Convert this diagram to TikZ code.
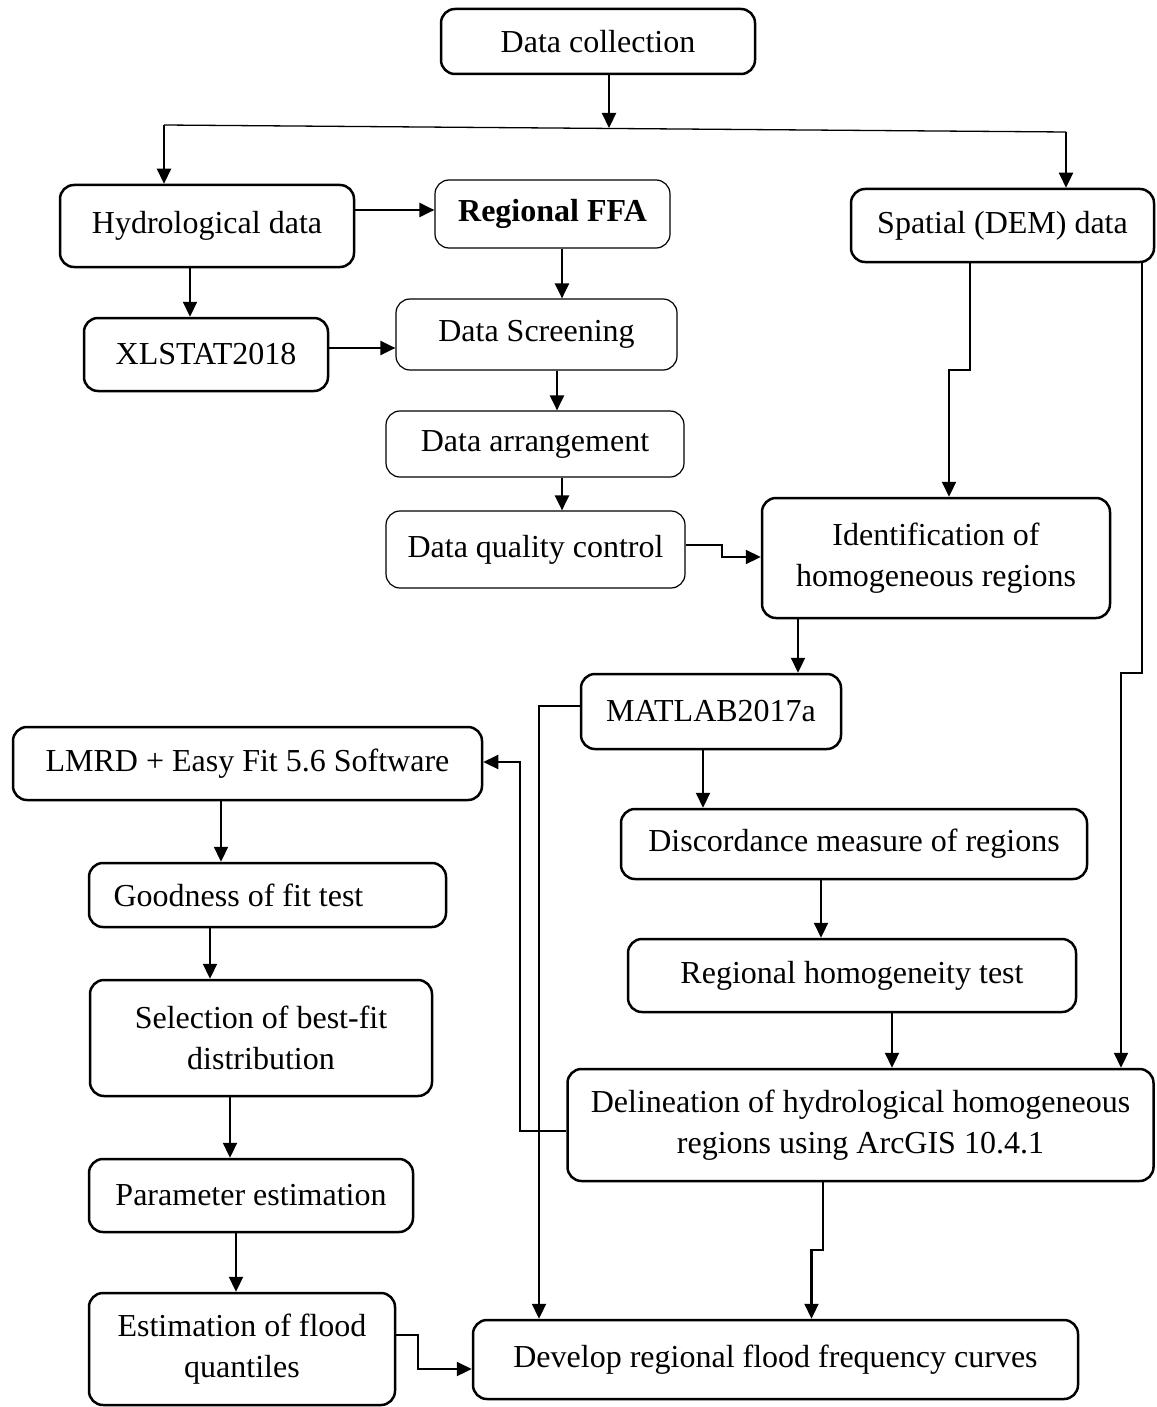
\documentclass[tikz,border=0pt]{standalone}
\usepackage{fontspec}
\setmainfont{Liberation Serif}
\usetikzlibrary{arrows.meta}
\begin{document}
\begin{tikzpicture}[x=1pt,y=-1pt,
  box/.style={draw, rounded corners=14pt, line width=2.5pt, inner sep=0pt, align=center, font=\fontsize{32}{41}\selectfont},
  tbox/.style={box, line width=1.2pt},
  arr/.style={line width=2.2pt, -{Triangle[length=15pt,width=14pt]}},
  ln/.style={line width=1.3pt}]
\useasboundingbox (0,0) rectangle (1156,1407);
% boxes
\node[box, minimum width=314pt, minimum height=65pt] (dc) at (598,41.5) {Data collection};
\node[box, minimum width=294pt, minimum height=82pt] (hyd) at (207,226) {Hydrological data};
\node[tbox, minimum width=235pt, minimum height=68pt] (ffa) at (552.5,214) {\textbf{Regional FFA}};
\node[box, minimum width=303pt, minimum height=73pt] (sp) at (1002.5,225.5) {Spatial (DEM) data};
\node[box, minimum width=244pt, minimum height=73pt] (xl) at (206,354.5) {XLSTAT2018};
\node[tbox, minimum width=281pt, minimum height=71pt] (scr) at (536.5,334.5) {Data Screening};
\node[tbox, minimum width=298pt, minimum height=66pt] (arg) at (535,444) {Data arrangement};
\node[tbox, minimum width=299pt, minimum height=77pt] (dqc) at (535.5,549.5) {Data quality control};
\node[box, minimum width=348pt, minimum height=120pt] (idn) at (936,558) {Identification of\\homogeneous regions};
\node[box, minimum width=260pt, minimum height=75pt] (mat) at (711,711.5) {MATLAB2017a};
\node[box, minimum width=469pt, minimum height=73pt] (lm) at (247.5,763.5) {LMRD + Easy Fit 5.6 Software};
\node[box, minimum width=466pt, minimum height=70pt] (dis) at (854,844) {Discordance measure of regions};
\node[box, minimum width=357pt, minimum height=64pt] (gof) at (267.5,895) {Goodness of fit test\hspace*{58pt}};
\node[box, minimum width=448pt, minimum height=73pt] (rh) at (852,975.5) {Regional homogeneity test};
\node[box, minimum width=342pt, minimum height=116pt] (sel) at (261,1038) {Selection of best-fit\\distribution};
\node[box, minimum width=586pt, minimum height=112pt] (del) at (860.5,1125) {Delineation of hydrological homogeneous\\regions using ArcGIS 10.4.1};
\node[box, minimum width=324pt, minimum height=73pt] (par) at (251,1195.5) {Parameter estimation};
\node[box, minimum width=306pt, minimum height=112pt] (efq) at (242,1349) {Estimation of flood\\quantiles};
\node[box, minimum width=605pt, minimum height=79pt] (dev) at (775.5,1359.5) {Develop regional flood frequency curves};
% helper coordinates
\coordinate (sL) at (164,125);
\coordinate (sR) at (1066,132);
\coordinate (sM) at (609,128);
\coordinate (yHF) at (0,210);
\coordinate (xHX) at (190,0);
\coordinate (yXS) at (0,348);
\coordinate (xFS) at (562,0);
\coordinate (xSA) at (557,0);
\coordinate (xAD) at (562,0);
\coordinate (yDQ) at (0,545);
\coordinate (kDQ) at (722,557);
\coordinate (xS1) at (970,0);
\coordinate (kS1) at (949,370);
\coordinate (xS2) at (1142,0);
\coordinate (kS2) at (1121,673);
\coordinate (xIM) at (798,0);
\coordinate (xMD) at (703,0);
\coordinate (yMW) at (0,706);
\coordinate (xMV) at (539,0);
\coordinate (yDW) at (0,1131);
\coordinate (kDL) at (520,762);
\coordinate (xDR) at (821,0);
\coordinate (xRD) at (892,0);
\coordinate (xDD) at (823,0);
\coordinate (kDD) at (811.5,1250);
\coordinate (xLG) at (221,0);
\coordinate (xGS) at (210,0);
\coordinate (xSP) at (230,0);
\coordinate (xPE) at (236,0);
\coordinate (yEF) at (0,1335);
\coordinate (kEF) at (418,1369);
% connectors
\draw[arr] (dc.south -| sM) -- (sM);
\draw[ln] (sL) -- (sR);
\draw[arr] (sL) -- (hyd.north -| sL);
\draw[arr] (sR) -- (sp.north -| sR);
\draw[arr] (hyd.east |- yHF) -- (ffa.west |- yHF);
\draw[arr] (hyd.south -| xHX) -- (xl.north -| xHX);
\draw[arr] (xl.east |- yXS) -- (scr.west |- yXS);
\draw[arr] (ffa.south -| xFS) -- (scr.north -| xFS);
\draw[arr] (scr.south -| xSA) -- (arg.north -| xSA);
\draw[arr] (arg.south -| xAD) -- (dqc.north -| xAD);
\draw[arr] (dqc.east |- yDQ) -| (kDQ) -- (idn.west |- kDQ);
\draw[arr] (sp.south -| xS1) |- (kS1) -- (idn.north -| kS1);
\draw[arr] (sp.south -| xS2) |- (kS2) -- (del.north -| kS2);
\draw[arr] (idn.south -| xIM) -- (mat.north -| xIM);
\draw[arr] (mat.south -| xMD) -- (dis.north -| xMD);
\draw[arr] (mat.west |- yMW) -| (dev.north -| xMV);
\draw[arr] (del.west |- yDW) -| (kDL) -- (lm.east |- kDL);
\draw[arr] (dis.south -| xDR) -- (rh.north -| xDR);
\draw[arr] (rh.south -| xRD) -- (del.north -| xRD);
\draw[arr] (del.south -| xDD) |- (kDD) -- (dev.north -| kDD);
\draw[arr] (lm.south -| xLG) -- (gof.north -| xLG);
\draw[arr] (gof.south -| xGS) -- (sel.north -| xGS);
\draw[arr] (sel.south -| xSP) -- (par.north -| xSP);
\draw[arr] (par.south -| xPE) -- (efq.north -| xPE);
\draw[arr] (efq.east |- yEF) -| (kEF) -- (dev.west |- kEF);
\end{tikzpicture}
\end{document}
